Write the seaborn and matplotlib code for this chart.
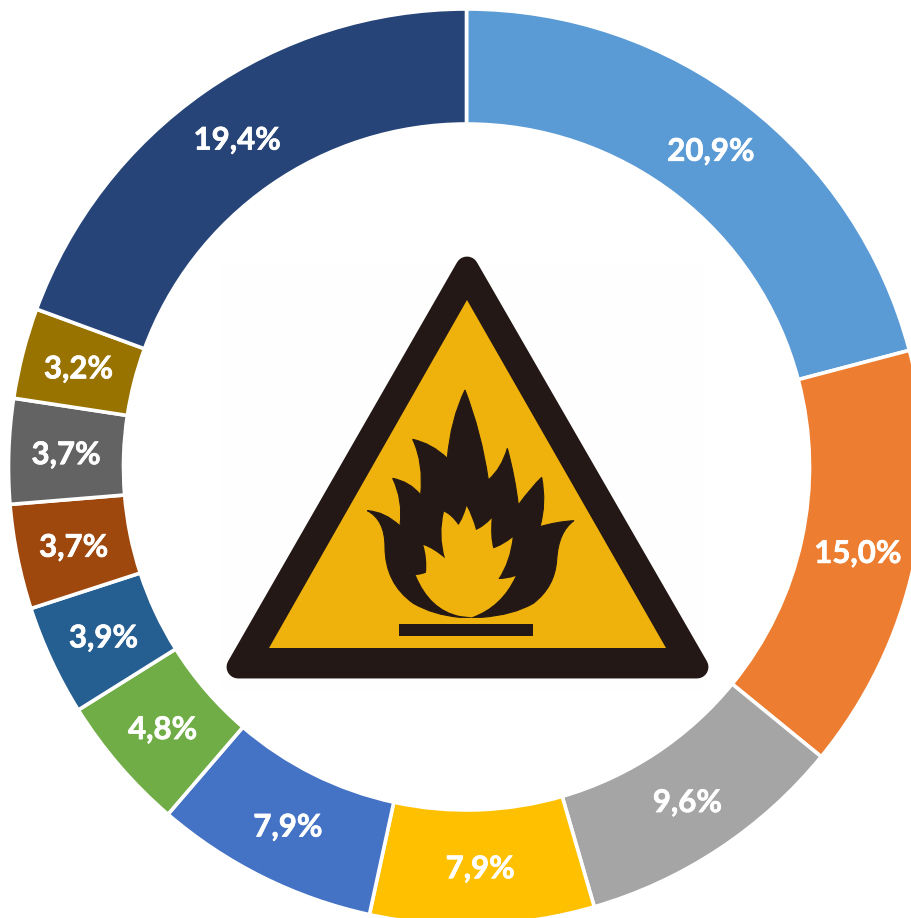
import numpy as np
import matplotlib
matplotlib.use("Agg")
import matplotlib.pyplot as plt
import matplotlib.patheffects as pe
from matplotlib.patches import Polygon, Rectangle, PathPatch
from matplotlib.path import Path
import seaborn as sns

sns.set_theme(style="white")
plt.rcParams['font.family'] = ['Lato', 'DejaVu Sans']

values = [20.9, 15.0, 9.6, 7.9, 7.9, 4.8, 3.9, 3.7, 3.7, 3.2, 19.4]
labels = ["20,9%", "15,0%", "9,6%", "7,9%", "7,9%", "4,8%", "3,9%", "3,7%", "3,7%", "3,2%", "19,4%"]
colors = ["#5B9BD5", "#ED7D31", "#A5A5A5", "#FFC000", "#4472C4", "#70AD47",
          "#255E91", "#9E480E", "#636363", "#997300", "#264478"]

W, H = 912, 918
CX, CY, R, R_IN = 466.5, 467, 458, 343

fig = plt.figure(figsize=(W / 100, H / 100), dpi=100, facecolor="white")
ax = fig.add_axes([0, 0, 1, 1])

wedges, _ = ax.pie(values, colors=colors, startangle=90, counterclock=False,
                   center=(CX, H - CY), radius=R, frame=True,
                   wedgeprops=dict(width=R - R_IN, edgecolor="white", linewidth=2.6))
ax.set_xlim(0, W)
ax.set_ylim(0, H)
ax.set_aspect("equal")
ax.axis("off")

for w, lab in zip(wedges, labels):
    a = np.deg2rad((w.theta1 + w.theta2) / 2)
    r = (R + R_IN) / 2
    ax.text(CX + r * np.cos(a), H - CY + r * np.sin(a) - 2, lab, color="white",
            fontsize=22.5, fontweight="bold", ha="center", va="center",
            path_effects=[pe.withStroke(linewidth=0.5, foreground="white")])


# warning sign in the middle, outlined in image pixels
def px(points):
    return [(x, H - y) for x, y in points]


def z2(p):
    return (350 + p[0] / 3, H - (380 + p[1] / 3))


def curve(start, segments):
    """Closed outline: each segment is (control, end), or (None, end) for a straight piece."""
    verts, codes = [z2(start)], [Path.MOVETO]
    for ctrl, end in segments:
        if ctrl is None:
            verts.append(z2(end))
            codes.append(Path.LINETO)
        else:
            verts += [z2(ctrl), z2(end)]
            codes += [Path.CURVE3, Path.CURVE3]
    verts.append(z2(start))
    codes.append(Path.CLOSEPOLY)
    return Path(verts, codes)


SIGN_DARK = "#231815"
SIGN_YELLOW = "#EFB10C"
flame_outer = curve((345, 30), [
    ((395, 160), (415, 300)), ((455, 265), (472, 205)), ((495, 290), (505, 375)),
    ((545, 320), (575, 292)), ((590, 370), (570, 440)), ((620, 425), (672, 422)),
    ((625, 455), (620, 540)), ((615, 620), (550, 670)), ((490, 705), (395, 712)),
    (None, (330, 712)), ((250, 705), (190, 670)), ((105, 610), (105, 500)),
    ((105, 420), (52, 392)), ((105, 395), (150, 438)), ((160, 360), (128, 295)),
    ((180, 305), (212, 345)), ((222, 250), (188, 178)), ((245, 190), (292, 235)),
    ((302, 118), (345, 30)),
])
flame_inner = curve((350, 378), [
    ((368, 410), (378, 450)), ((402, 440), (425, 415)), ((420, 470), (430, 505)),
    ((460, 495), (488, 472)), ((480, 545), (445, 597)), ((470, 598), (497, 588)),
    ((455, 680), (365, 712)), (None, (330, 708)), ((240, 690), (197, 585)),
    ((212, 585), (228, 578)), ((232, 535), (220, 495)), ((250, 505), (285, 535)),
    ((265, 465), (282, 395)), ((305, 405), (325, 435)), ((340, 415), (350, 378)),
])

ax.add_patch(Rectangle((222, H - 690), 483, 425, facecolor="#FEFEFE", edgecolor="none", zorder=2))
ax.add_patch(Polygon(px([(467, 268), (238, 667), (697, 667)]), closed=True, facecolor=SIGN_DARK,
                     edgecolor=SIGN_DARK, linewidth=16.5, joinstyle="round", zorder=3))
ax.add_patch(Polygon(px([(467, 300), (269, 648), (666, 648)]), closed=True, facecolor=SIGN_YELLOW,
                     edgecolor="none", zorder=4))
ax.add_patch(PathPatch(flame_outer, facecolor=SIGN_DARK, edgecolor=SIGN_DARK, linewidth=0.8, zorder=5))
ax.add_patch(PathPatch(flame_inner, facecolor=SIGN_YELLOW, edgecolor="none", zorder=6))
ax.add_patch(Rectangle((399, H - 636), 134, 12, facecolor=SIGN_DARK, edgecolor="none", zorder=5))

fig.savefig("out.png", dpi=100, facecolor="white")
